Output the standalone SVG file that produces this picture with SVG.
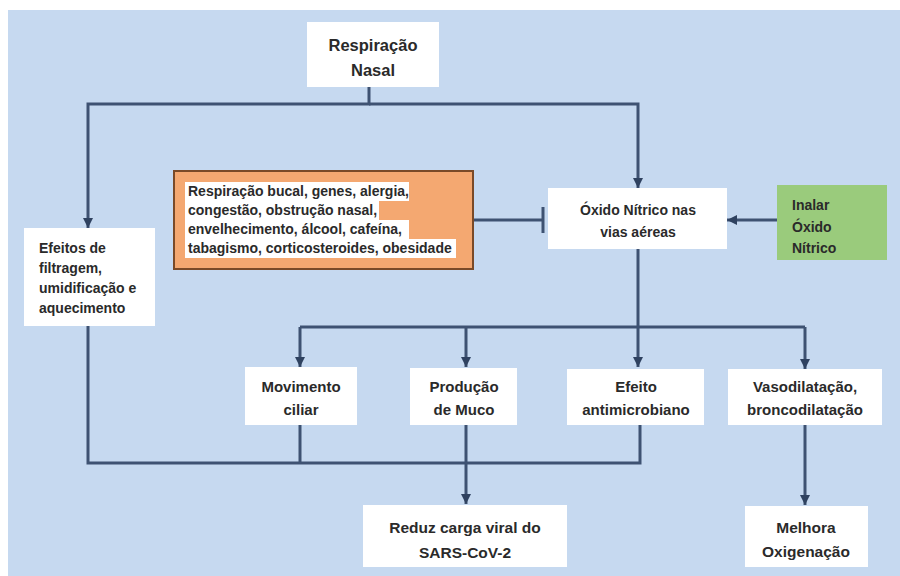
<svg xmlns="http://www.w3.org/2000/svg" width="900" height="576" viewBox="0 0 900 576">
<defs>
<style>
.bg{fill:#c6d9f0}
.box{fill:#ffffff}
.t{font-family:"Liberation Sans",Arial,sans-serif;font-weight:bold;fill:#2a2a2a}
.c{text-anchor:middle}
.ln{fill:none;stroke:#3e5272;stroke-width:3}
.hl{fill:#ffffff}
</style>
<marker id="arr" viewBox="0 0 10 10" refX="10" refY="5" markerWidth="10" markerHeight="10" markerUnits="userSpaceOnUse" orient="auto">
<path d="M0,0 L10,5 L0,10 z" fill="#2f4260"/>
</marker>
</defs>
<rect x="0" y="0" width="900" height="576" fill="#ffffff"/>
<rect class="bg" x="8" y="10" width="892" height="566"/>

<g id="connectors">
<path class="ln" d="M369,87 V104 H88 V228" marker-end="url(#arr)"/>
<path class="ln" d="M369,104 H638 V188" marker-end="url(#arr)"/>
<path class="ln" d="M777,220 H727" marker-end="url(#arr)"/>
<path class="ln" d="M473,220 H543"/>
<path class="ln" d="M543,207 V233"/>
<path class="ln" d="M638,249 V367" marker-end="url(#arr)"/>
<path class="ln" d="M300,327 H805"/>
<path class="ln" d="M300,327 V367" marker-end="url(#arr)"/>
<path class="ln" d="M466,327 V367" marker-end="url(#arr)"/>
<path class="ln" d="M805,327 V369" marker-end="url(#arr)"/>
<path class="ln" d="M88,326 V463 H640 V425"/>
<path class="ln" d="M300,425 V463"/>
<path class="ln" d="M466,425 V504" marker-end="url(#arr)"/>
<path class="ln" d="M805,425 V505" marker-end="url(#arr)"/>
</g>

<g id="respiracao-nasal">
<rect class="box" x="307" y="22" width="132" height="65"/>
<text class="t c" x="373" y="51" font-size="16.5">Respiração</text>
<text class="t c" x="373" y="76" font-size="16.5">Nasal</text>
</g>

<g id="fatores">
<rect x="174" y="171" width="299" height="98" fill="#f4a871" stroke="#7a4a28" stroke-width="2"/>
<rect class="hl" x="185" y="182" width="224" height="19"/>
<rect class="hl" x="185" y="201" width="194" height="19"/>
<rect class="hl" x="185" y="220" width="224" height="19"/>
<rect class="hl" x="185" y="239" width="271" height="19"/>
<text class="t" x="188" y="196" font-size="14">Respiração bucal, genes, alergia,</text>
<text class="t" x="188" y="215" font-size="14">congestão, obstrução nasal,</text>
<text class="t" x="188" y="234" font-size="14">envelhecimento, álcool, cafeína,</text>
<text class="t" x="188" y="253" font-size="14">tabagismo, corticosteroides, obesidade</text>
</g>

<g id="oxido-nitrico">
<rect class="box" x="548" y="188" width="179" height="61"/>
<text class="t c" x="638" y="215" font-size="14">Óxido Nítrico nas</text>
<text class="t c" x="638" y="237" font-size="14">vias aéreas</text>
</g>

<g id="inalar">
<rect x="777" y="185" width="110" height="75" fill="#9acb7c"/>
<text class="t" x="792" y="210" font-size="14">Inalar</text>
<text class="t" x="792" y="232" font-size="14">Óxido</text>
<text class="t" x="792" y="253" font-size="14">Nítrico</text>
</g>

<g id="efeitos-filtragem">
<rect class="box" x="24" y="228" width="131" height="98"/>
<text class="t" x="39" y="253" font-size="14">Efeitos de</text>
<text class="t" x="39" y="273" font-size="14">filtragem,</text>
<text class="t" x="39" y="293" font-size="14">umidificação e</text>
<text class="t" x="39" y="313" font-size="14">aquecimento</text>
</g>

<g id="movimento-ciliar">
<rect class="box" x="245" y="367" width="112" height="58"/>
<text class="t c" x="301" y="392" font-size="15">Movimento</text>
<text class="t c" x="301" y="415" font-size="15">ciliar</text>
</g>

<g id="producao-muco">
<rect class="box" x="410" y="368" width="107" height="57"/>
<text class="t c" x="464" y="392" font-size="15">Produção</text>
<text class="t c" x="464" y="415" font-size="15">de Muco</text>
</g>

<g id="efeito-antimicrobiano">
<rect class="box" x="567" y="369" width="137" height="56"/>
<text class="t c" x="636" y="392" font-size="15">Efeito</text>
<text class="t c" x="636" y="415" font-size="15">antimicrobiano</text>
</g>

<g id="vasodilatacao">
<rect class="box" x="728" y="369" width="154" height="56"/>
<text class="t c" x="805" y="392" font-size="15">Vasodilatação,</text>
<text class="t c" x="805" y="415" font-size="15">broncodilatação</text>
</g>

<g id="reduz-carga">
<rect class="box" x="363" y="505" width="204" height="62"/>
<text class="t c" x="465" y="533" font-size="15.5">Reduz carga viral do</text>
<text class="t c" x="465" y="558" font-size="15.5">SARS-CoV-2</text>
</g>

<g id="melhora-oxigenacao">
<rect class="box" x="745" y="506" width="123" height="61"/>
<text class="t c" x="806" y="533" font-size="15.5">Melhora</text>
<text class="t c" x="806" y="557" font-size="15.5">Oxigenação</text>
</g>
</svg>
